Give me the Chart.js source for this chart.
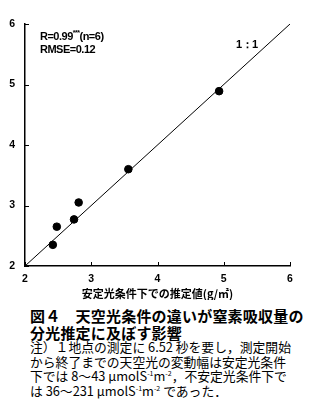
<!DOCTYPE html>
<html>
<head>
<meta charset="utf-8">
<script src="https://cdn.jsdelivr.net/npm/chart.js@4/dist/chart.umd.min.js"></script>
<style>
  body { margin: 0; background: #fff; width: 310px; height: 419px; overflow: hidden; position: relative; font-family: "Noto Sans CJK JP", sans-serif; }
  #box { position: absolute; left: 0; top: 0; width: 310px; height: 300px; }
  .note { position: absolute; color: #000; white-space: nowrap; }
  .stat { font-family: "Liberation Sans", Arial, sans-serif; font-weight: bold; font-size: 11px; letter-spacing: -0.5px; }
  .cap { font-weight: bold; font-size: 15px; left: 30px; letter-spacing: 0.2px; line-height: 17px; }
  .txt { font-size: 12.8px; left: 30px; line-height: 14.5px; }
  sup { font-size: 7px; vertical-align: 5px; line-height: 0; }
</style>
</head>
<body>
<div id="box"><canvas id="myChart"></canvas></div>
<div class="note stat" style="left:40px; top:30px;">R=0.99<sup>***</sup>(n=6)</div>
<div class="note stat" style="left:40px; top:43px;">RMSE=0.12</div>
<div class="note stat" style="left:236px; top:37px;">1：1</div>
<div class="note cap" style="top:307px;">図４　天空光条件の違いが窒素吸収量の<br>分光推定に及ぼす影響</div>
<div class="note txt" style="top:340px;">注）１地点の測定に 6.52 秒を要し，測定開始<br>から終了までの天空光の変動幅は安定光条件<br>下では 8〜43 μmolS<sup>-1</sup>m<sup>-2</sup>，不安定光条件下で<br>は 36〜231 μmolS<sup>-1</sup>m<sup>-2</sup> であった．</div>
<script>
const stableEst = [2.42, 2.48, 2.74, 2.81, 3.56, 4.93];
const unstableEst = [2.35, 2.65, 2.77, 3.05, 3.60, 4.89];
const oneToOne = [2, 6];
const tickValues = [2, 3, 4, 5, 6];

const points = stableEst.map((x, i) => ({ x: x, y: unstableEst[i] }));
const refLine = oneToOne.map((v) => ({ x: v, y: v }));

// ticks are drawn inward from the axis lines
const innerTicks = {
    id: "innerTicks",
    afterDraw(chart) {
        const ctx = chart.ctx;
        const xs = chart.scales.x;
        const ys = chart.scales.y;
        ctx.save();
        ctx.strokeStyle = "#000";
        ctx.lineWidth = 1;
        tickValues.forEach((v) => {
            const px = Math.round(xs.getPixelForValue(v)) + 0.5;
            ctx.beginPath();
            ctx.moveTo(px, ys.bottom);
            ctx.lineTo(px, ys.bottom - 4);
            ctx.stroke();
            const py = Math.round(ys.getPixelForValue(v)) + 0.5;
            ctx.beginPath();
            ctx.moveTo(xs.left, py);
            ctx.lineTo(xs.left + 4, py);
            ctx.stroke();
        });
        ctx.restore();
    },
};

const tickFont = { family: "Liberation Sans", size: 10.5, weight: "bold" };

new Chart(document.getElementById("myChart"), {
    type: "scatter",
    data: {
        datasets: [
            {
                type: "line",
                data: refLine,
                borderColor: "#000",
                borderWidth: 1,
                pointRadius: 0,
                fill: false,
            },
            {
                data: points,
                backgroundColor: "#000",
                borderColor: "#000",
                pointRadius: 3.8,
            },
        ],
    },
    options: {
        responsive: true,
        maintainAspectRatio: false,
        animation: false,
        layout: { padding: { top: 24, right: 20, left: 0, bottom: 0 } },
        plugins: { legend: { display: false }, tooltip: { enabled: false } },
        scales: {
            x: {
                type: "linear",
                min: 2,
                max: 6,
                afterBuildTicks: (s) => { s.ticks = tickValues.map((v) => ({ value: v })); },
                grid: { display: true, drawOnChartArea: false, drawTicks: false },
                border: { color: "#000", width: 1.5 },
                ticks: { color: "#000", font: tickFont, padding: 7 },
                title: {
                    display: true,
                    text: "安定光条件下での推定値(g/㎡)",
                    color: "#000",
                    font: { family: "Noto Sans CJK JP", size: 11, weight: "bold" },
                    padding: { top: 0, bottom: 0 },
                },
                afterFit: (s) => { s.height = 34; },
            },
            y: {
                type: "linear",
                min: 2,
                max: 6,
                afterBuildTicks: (s) => { s.ticks = tickValues.map((v) => ({ value: v })); },
                grid: { display: true, drawOnChartArea: false, drawTicks: false },
                border: { color: "#000", width: 1.5 },
                ticks: { color: "#000", font: tickFont, padding: 10 },
                afterFit: (s) => { s.width = 25; },
            },
        },
    },
    plugins: [innerTicks],
});
</script>
</body>
</html>
